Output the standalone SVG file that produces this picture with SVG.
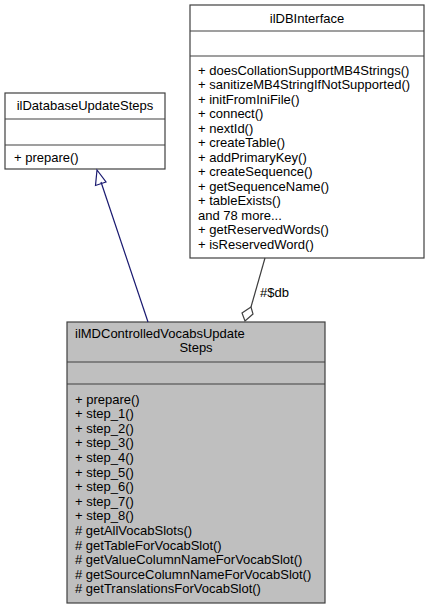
<svg xmlns="http://www.w3.org/2000/svg" width="431" height="609" viewBox="0 0 431 609">
<defs>
<style>
.box{fill:#ffffff;stroke:#404040;stroke-width:1.2}
.cur{fill:#bfbfbf;stroke:#404040;stroke-width:1.2}
text{font-family:"Liberation Sans",Arial,Helvetica,sans-serif;font-size:13px;fill:#000}
.c{text-anchor:middle}
.inh{fill:none;stroke:#191970;stroke-width:1.2}
.agg{fill:none;stroke:#404040;stroke-width:1.2}
</style>
</defs>
<rect width="431" height="609" fill="#ffffff"/>
<g id="ilDBInterface">
<rect class="box" x="190" y="5" width="234" height="253"/>
<line class="box" x1="190" y1="31" x2="424" y2="31"/>
<line class="box" x1="190" y1="56" x2="424" y2="56"/>
<text class="c" x="307" y="23">ilDBInterface</text>
<text x="198" y="74.5">+ doesCollationSupportMB4Strings()</text>
<text x="198" y="89">+ sanitizeMB4StringIfNotSupported()</text>
<text x="198" y="103.5">+ initFromIniFile()</text>
<text x="198" y="118">+ connect()</text>
<text x="198" y="132.5">+ nextId()</text>
<text x="198" y="147">+ createTable()</text>
<text x="198" y="161.5">+ addPrimaryKey()</text>
<text x="198" y="176">+ createSequence()</text>
<text x="198" y="190.5">+ getSequenceName()</text>
<text x="198" y="205">+ tableExists()</text>
<text x="198" y="219.5">and 78 more...</text>
<text x="198" y="234">+ getReservedWords()</text>
<text x="198" y="248.5">+ isReservedWord()</text>
</g>
<g id="ilDatabaseUpdateSteps">
<rect class="box" x="5" y="93" width="160" height="76"/>
<line class="box" x1="5" y1="119" x2="165" y2="119"/>
<line class="box" x1="5" y1="145" x2="165" y2="145"/>
<text class="c" x="85" y="110">ilDatabaseUpdateSteps</text>
<text x="14" y="162">+ prepare()</text>
</g>
<g id="ilMDControlledVocabsUpdateSteps">
<rect class="cur" x="67" y="322" width="258" height="281"/>
<line class="cur" x1="67" y1="362" x2="325" y2="362"/>
<line class="cur" x1="67" y1="384" x2="325" y2="384"/>
<text x="75" y="338">ilMDControlledVocabsUpdate</text>
<text class="c" x="196" y="352">Steps</text>
<text x="75" y="403.5">+ prepare()</text>
<text x="75" y="418.1">+ step_1()</text>
<text x="75" y="432.7">+ step_2()</text>
<text x="75" y="447.3">+ step_3()</text>
<text x="75" y="461.9">+ step_4()</text>
<text x="75" y="476.5">+ step_5()</text>
<text x="75" y="491.1">+ step_6()</text>
<text x="75" y="505.7">+ step_7()</text>
<text x="75" y="520.3">+ step_8()</text>
<text x="75" y="534.9"># getAllVocabSlots()</text>
<text x="75" y="549.5"># getTableForVocabSlot()</text>
<text x="75" y="564.1"># getValueColumnNameForVocabSlot()</text>
<text x="75" y="578.7"># getSourceColumnNameForVocabSlot()</text>
<text x="75" y="593.3"># getTranslationsForVocabSlot()</text>
</g>
<g id="connectors">
<line class="inh" x1="148" y1="322" x2="101" y2="182"/>
<polygon class="inh" points="97,170 95.5,185.5 106,182"/>
<line class="agg" x1="265" y1="258" x2="251" y2="307"/>
<polygon class="agg" points="251,307 242,313 245,321 253,314"/>
<text x="260" y="297">#$db</text>
</g>
</svg>
